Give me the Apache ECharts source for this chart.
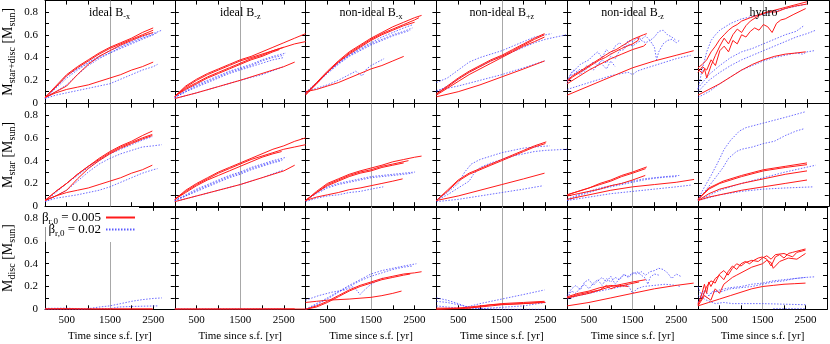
<!DOCTYPE html>
<html>
<head>
<meta charset="UTF-8">
<title>Stellar and disc mass vs time</title>
<script src="https://cdn.jsdelivr.net/npm/echarts@6.0.0/dist/echarts.min.js"></script>
<style>
  html, body { margin: 0; padding: 0; background: #fff; }
  #chart { width: 830px; height: 344px; }
</style>
</head>
<body>
<div id="chart"></div>
<script>
// column titles (main text, subscript) and row labels
var colTitles = [['ideal B', '-x'], ['ideal B', '-z'], ['non-ideal B', '-x'],
                 ['non-ideal B', '+z'], ['non-ideal B', '-z'], ['hydro', '']];
var rowLabels = ['star+disc', 'star', 'disc'];
var xTickLabels = [500, 1500, 2500];
var yTickLabels = [0, 0.2, 0.4, 0.6, 0.8];
var markTime = 1500;
var betaValues = ['0.005', '0.02'];

// ---- M star+disc ----
var sdIdealBxRed = [
  [[0,0.05],[250,0.15],[500,0.25],[750,0.32],[1000,0.38],[1250,0.44],[1500,0.49],[1750,0.53],[2000,0.57],[2250,0.62],[2500,0.66]],
  [[0,0.05],[250,0.14],[500,0.24],[750,0.31],[1000,0.37],[1250,0.43],[1500,0.48],[1750,0.52],[2000,0.56],[2250,0.6],[2500,0.64]],
  [[0,0.05],[250,0.1],[500,0.15],[750,0.25],[1000,0.34],[1250,0.41],[1500,0.46],[1750,0.51],[2000,0.55],[2250,0.59],[2500,0.62]],
  [[0,0.05],[250,0.09],[500,0.12],[750,0.14],[1000,0.16],[1250,0.19],[1500,0.22],[1750,0.25],[2000,0.29],[2250,0.32],[2500,0.36]]
];
var sdIdealBxBlue = [
  [[0,0.04],[250,0.14],[500,0.24],[750,0.3],[1000,0.36],[1250,0.41],[1500,0.46],[1750,0.5],[2000,0.54],[2250,0.58],[2500,0.61],[2700,0.64]],
  [[0,0.04],[250,0.1],[500,0.16],[750,0.25],[1000,0.33],[1250,0.39],[1500,0.44],[1750,0.48],[2000,0.52],[2250,0.56],[2500,0.6],[2600,0.62]],
  [[0,0.04],[250,0.13],[500,0.22],[750,0.29],[1000,0.35],[1250,0.4],[1500,0.44],[1750,0.49],[2000,0.53],[2250,0.57],[2500,0.6]],
  [[0,0.04],[250,0.07],[500,0.09],[750,0.11],[1000,0.13],[1250,0.15],[1500,0.17],[1750,0.21],[2000,0.25],[2250,0.29],[2500,0.32],[2600,0.34]]
];
var sdIdealBzRed = [
  [[0,0.06],[250,0.15],[500,0.21],[750,0.26],[1000,0.3],[1250,0.34],[1500,0.38],[1750,0.41],[2000,0.45],[2250,0.49],[2500,0.53],[2750,0.57],[3000,0.61]],
  [[0,0.06],[250,0.14],[500,0.2],[750,0.25],[1000,0.29],[1250,0.33],[1500,0.37],[1750,0.4],[2000,0.43],[2250,0.46],[2500,0.49],[2750,0.52],[3000,0.54]],
  [[0,0.06],[250,0.13],[500,0.18],[750,0.23],[1000,0.27],[1250,0.31],[1500,0.35],[1750,0.39],[2000,0.42],[2250,0.46],[2500,0.49]],
  [[0,0.06],[250,0.12],[500,0.17],[750,0.22],[1000,0.26],[1250,0.3],[1500,0.34],[1750,0.38],[2000,0.41],[2250,0.45],[2400,0.47]],
  [[0,0.04],[500,0.09],[1000,0.145],[1500,0.2],[2000,0.26],[2500,0.32],[2750,0.36]]
];
var sdIdealBzBlue = [
  [[0,0.05],[250,0.11],[500,0.16],[750,0.2],[1000,0.24],[1250,0.28],[1500,0.31],[1750,0.34],[2000,0.38],[2250,0.41],[2550,0.44]],
  [[0,0.05],[250,0.1],[500,0.15],[750,0.19],[1000,0.23],[1250,0.27],[1500,0.3],[1750,0.33],[2000,0.37],[2250,0.4],[2500,0.42]],
  [[0,0.05],[250,0.1],[500,0.14],[750,0.18],[1000,0.22],[1250,0.26],[1500,0.29],[1750,0.32],[2000,0.35],[2250,0.38],[2500,0.4]],
  [[0,0.04],[500,0.09],[1000,0.145],[1500,0.2],[2000,0.25],[2500,0.32]]
];
var sdNonIdealBxRed = [
  [[0,0.08],[250,0.18],[500,0.28],[750,0.37],[1000,0.45],[1250,0.51],[1500,0.57],[1750,0.62],[2000,0.67],[2250,0.71],[2500,0.75],[2660,0.77]],
  [[0,0.08],[250,0.17],[500,0.27],[750,0.36],[1000,0.44],[1250,0.5],[1500,0.56],[1750,0.61],[2000,0.65],[2250,0.69],[2500,0.73],[2600,0.75]],
  [[0,0.07],[250,0.17],[500,0.27],[750,0.36],[1000,0.43],[1250,0.49],[1500,0.55],[1750,0.6],[2000,0.64],[2250,0.68],[2500,0.71]],
  [[0,0.1],[250,0.12],[500,0.15],[750,0.18],[1000,0.22],[1250,0.26],[1500,0.3],[1750,0.33],[2000,0.37],[2250,0.41]]
];
var sdNonIdealBxBlue = [
  [[0,0.09],[250,0.18],[500,0.27],[750,0.35],[1000,0.42],[1250,0.48],[1500,0.53],[1750,0.58],[2000,0.62],[2250,0.66],[2470,0.69]],
  [[0,0.09],[250,0.18],[500,0.27],[750,0.35],[1000,0.42],[1250,0.47],[1500,0.52],[1750,0.56],[2000,0.6],[2250,0.63],[2450,0.66]],
  [[0,0.09],[250,0.17],[500,0.26],[750,0.34],[1000,0.41],[1250,0.46],[1500,0.51],[1750,0.55],[2000,0.59],[2250,0.62],[2400,0.64]],
  [[0,0.1],[250,0.13],[500,0.16],[750,0.2],[1000,0.25],[1150,0.28],[1250,0.25],[1300,0.24],[1400,0.3],[1500,0.33],[1750,0.38],[1800,0.39]]
];
var sdNonIdealBpzRed = [
  [[0,0.08],[250,0.15],[500,0.22],[750,0.28],[1000,0.33],[1250,0.38],[1500,0.42],[1750,0.47],[2000,0.52],[2250,0.57],[2480,0.61]],
  [[0,0.08],[250,0.14],[500,0.21],[750,0.27],[1000,0.32],[1250,0.37],[1500,0.41],[1750,0.46],[2000,0.51],[2250,0.56],[2480,0.6]],
  [[0,0.07],[250,0.13],[500,0.19],[750,0.25],[1000,0.3],[1250,0.35],[1500,0.4],[1750,0.45],[2000,0.5],[2250,0.54],[2480,0.58]],
  [[0,0.055],[500,0.1],[1000,0.16],[1500,0.23],[2000,0.3],[2480,0.37]]
];
var sdNonIdealBpzBlue = [
  [[0,0.18],[250,0.22],[500,0.29],[750,0.36],[1000,0.4],[1250,0.43],[1500,0.46],[1750,0.5],[2000,0.54],[2250,0.58],[2640,0.61]],
  [[0,0.1],[250,0.15],[500,0.21],[750,0.27],[1000,0.32],[1250,0.37],[1500,0.41],[1750,0.45],[2000,0.49],[2250,0.53],[2500,0.56],[2980,0.6]],
  [[0,0.11],[500,0.15],[1000,0.2],[1500,0.25],[2000,0.31],[2480,0.37]]
];
var sdNonIdealBmzRed = [
  [[0,0.2],[125,0.24],[250,0.27],[375,0.3],[500,0.33],[625,0.36],[750,0.39],[875,0.42],[1000,0.45],[1125,0.47],[1250,0.5],[1375,0.53],[1500,0.56],[1625,0.58],[1750,0.6],[1825,0.61]],
  [[0,0.19],[125,0.23],[250,0.26],[375,0.29],[500,0.32],[625,0.35],[750,0.38],[875,0.4],[1000,0.43],[1250,0.48],[1500,0.52],[1625,0.55],[1650,0.58]],
  [[0,0.17],[250,0.23],[500,0.29],[750,0.34],[1000,0.39],[1250,0.43],[1500,0.47],[1750,0.5],[1810,0.52]],
  [[0,0.07],[500,0.15],[1000,0.23],[1500,0.31],[2000,0.37],[2500,0.42],[2900,0.46]]
];
var sdNonIdealBmzBlue = [
  [[0,0.19],[100,0.27],[200,0.3],[300,0.34],[400,0.36],[500,0.38],[600,0.42],[700,0.45],[800,0.4],[900,0.47],[1000,0.43],[1100,0.5],[1200,0.53],[1300,0.49],[1400,0.55],[1500,0.54],[1600,0.57],[1700,0.56],[1800,0.59],[1900,0.55],[2000,0.58],[2100,0.63],[2200,0.64],[2300,0.6],[2400,0.58],[2500,0.55]],
  [[0,0.17],[100,0.24],[200,0.27],[300,0.3],[400,0.28],[500,0.33],[600,0.36],[700,0.33],[800,0.38],[900,0.35],[1000,0.41],[1100,0.39],[1200,0.46],[1300,0.47],[1400,0.52],[1500,0.5],[1600,0.53],[1700,0.55],[1800,0.53],[1900,0.55],[2000,0.49],[2050,0.38],[2100,0.45],[2200,0.52],[2300,0.55],[2400,0.56],[2500,0.53],[2570,0.55]],
  [[0,0.12],[250,0.15],[500,0.18],[750,0.21],[1000,0.24],[1250,0.26],[1400,0.27],[1500,0.25],[1600,0.28],[1750,0.3],[2000,0.33],[2250,0.36],[2500,0.39],[2830,0.42]],
  [[0,0.2],[150,0.29],[300,0.25],[450,0.33],[600,0.29],[750,0.36],[900,0.3],[1000,0.37],[1100,0.32]]
];
var sdHydroRed = [
  [[0,0.31],[100,0.34],[200,0.38],[300,0.45],[400,0.5],[500,0.56],[600,0.6],[700,0.64],[800,0.67],[900,0.69],[1000,0.72],[1200,0.75],[1500,0.79],[1700,0.81],[2000,0.84],[2200,0.86],[2500,0.89]],
  [[0,0.3],[100,0.26],[150,0.3],[200,0.22],[300,0.33],[400,0.42],[500,0.5],[600,0.57],[700,0.52],[800,0.6],[900,0.65],[1000,0.62],[1100,0.68],[1200,0.72],[1400,0.77],[1600,0.8],[1800,0.8],[2000,0.83],[2200,0.85],[2500,0.87]],
  [[0,0.27],[100,0.32],[200,0.29],[300,0.38],[400,0.33],[500,0.46],[600,0.5],[700,0.45],[800,0.55],[900,0.52],[1000,0.6],[1100,0.58],[1200,0.63],[1300,0.66],[1400,0.64],[1500,0.69],[1600,0.67],[1700,0.62],[1800,0.7],[1900,0.73],[2000,0.74],[2200,0.78],[2470,0.83]],
  [[0,0.07],[250,0.12],[500,0.17],[750,0.23],[1000,0.29],[1250,0.34],[1500,0.38],[1750,0.41],[2000,0.43],[2250,0.44],[2470,0.45]]
];
var sdHydroBlue = [
  [[0,0.12],[100,0.3],[200,0.45],[300,0.55],[400,0.6],[500,0.64],[750,0.7],[1000,0.74],[1500,0.78],[2000,0.83],[2500,0.87]],
  [[0,0.13],[250,0.25],[500,0.33],[750,0.4],[1000,0.45],[1250,0.48],[1500,0.52],[1750,0.56],[2000,0.6],[2250,0.63],[2430,0.68]],
  [[0,0.1],[250,0.2],[500,0.27],[750,0.33],[1000,0.38],[1250,0.42],[1500,0.46],[1750,0.5],[2000,0.54],[2250,0.58],[2500,0.61],[2700,0.64]],
  [[0,0.05],[250,0.1],[500,0.17],[750,0.23],[1000,0.29],[1250,0.33],[1500,0.37],[1750,0.4],[2000,0.42],[2250,0.44],[2400,0.43],[2500,0.45],[2660,0.46]]
];

// ---- M star ----
var stIdealBxRed = [
  [[0,0.05],[250,0.13],[500,0.2],[750,0.28],[1000,0.35],[1250,0.42],[1500,0.48],[1750,0.53],[2000,0.57],[2250,0.62],[2480,0.66]],
  [[0,0.05],[250,0.13],[500,0.2],[750,0.28],[1000,0.35],[1250,0.41],[1500,0.47],[1750,0.52],[2000,0.56],[2250,0.6],[2480,0.63]],
  [[0,0.05],[250,0.09],[500,0.14],[750,0.24],[1000,0.33],[1250,0.4],[1500,0.46],[1750,0.51],[2000,0.55],[2250,0.59],[2480,0.62]],
  [[0,0.05],[250,0.09],[500,0.12],[750,0.14],[1000,0.16],[1250,0.19],[1500,0.22],[1750,0.25],[2000,0.29],[2250,0.32],[2480,0.36]]
];
var stIdealBxBlue = [
  [[0,0.04],[250,0.12],[500,0.2],[750,0.27],[1000,0.34],[1250,0.4],[1500,0.46],[1750,0.5],[2000,0.54],[2250,0.58],[2480,0.61]],
  [[0,0.04],[250,0.09],[500,0.14],[750,0.22],[1000,0.3],[1250,0.37],[1500,0.42],[1750,0.46],[2000,0.49],[2250,0.52],[2500,0.53],[2700,0.54]],
  [[0,0.04],[250,0.07],[500,0.085],[750,0.1],[1000,0.12],[1250,0.14],[1500,0.17],[1750,0.21],[2000,0.25],[2250,0.29],[2500,0.32],[2600,0.33]]
];
var stIdealBzRed = [
  [[0,0.06],[250,0.14],[500,0.2],[750,0.25],[1000,0.3],[1250,0.34],[1500,0.38],[1750,0.42],[2000,0.46],[2250,0.5],[2500,0.53],[2750,0.57],[3000,0.6]],
  [[0,0.06],[250,0.13],[500,0.19],[750,0.24],[1000,0.29],[1250,0.33],[1500,0.37],[1750,0.41],[2000,0.44],[2250,0.47],[2500,0.5],[2750,0.52],[3000,0.54]],
  [[0,0.06],[250,0.12],[500,0.18],[750,0.23],[1000,0.27],[1250,0.31],[1500,0.35],[1750,0.39],[2000,0.43],[2250,0.46],[2450,0.48]],
  [[0,0.04],[500,0.09],[1000,0.14],[1500,0.19],[2000,0.25],[2500,0.31],[2750,0.36]]
];
var stIdealBzBlue = [
  [[0,0.05],[250,0.1],[500,0.15],[750,0.19],[1000,0.23],[1250,0.27],[1500,0.3],[1750,0.34],[2000,0.37],[2250,0.4],[2560,0.43]],
  [[0,0.05],[250,0.09],[500,0.14],[750,0.18],[1000,0.22],[1250,0.26],[1500,0.29],[1750,0.33],[2000,0.36],[2250,0.39],[2500,0.41]],
  [[0,0.05],[250,0.09],[500,0.13],[750,0.17],[1000,0.21],[1250,0.25],[1500,0.28],[1750,0.32],[2000,0.35],[2250,0.38],[2450,0.4]],
  [[0,0.04],[500,0.09],[1000,0.14],[1500,0.19],[2000,0.25],[2500,0.32]]
];
var stNonIdealBxRed = [
  [[0,0.05],[250,0.13],[500,0.2],[750,0.24],[1000,0.28],[1250,0.31],[1500,0.335],[1750,0.36],[2000,0.39],[2250,0.41],[2500,0.43],[2660,0.44]],
  [[0,0.05],[250,0.12],[500,0.19],[750,0.23],[1000,0.27],[1250,0.3],[1500,0.32],[1750,0.35],[2000,0.37],[2360,0.4]],
  [[0,0.05],[250,0.12],[500,0.18],[750,0.22],[1000,0.26],[1250,0.29],[1500,0.31],[1750,0.34],[2000,0.36],[2250,0.38]],
  [[0,0.05],[250,0.08],[500,0.1],[750,0.12],[1000,0.145],[1250,0.16],[1500,0.18],[1750,0.2],[2000,0.22],[2225,0.24]]
];
var stNonIdealBxBlue = [
  [[0,0.05],[250,0.12],[500,0.17],[750,0.2],[1000,0.22],[1250,0.24],[1500,0.26],[1750,0.27],[2000,0.28],[2250,0.29],[2510,0.3]],
  [[0,0.05],[250,0.11],[500,0.16],[750,0.19],[1000,0.21],[1250,0.23],[1500,0.25],[1750,0.26],[2000,0.27],[2250,0.28],[2450,0.29]],
  [[0,0.04],[250,0.07],[500,0.09],[750,0.1],[1000,0.12],[1250,0.13],[1500,0.15],[1780,0.17]]
];
var stNonIdealBpzRed = [
  [[0,0.05],[250,0.14],[500,0.23],[750,0.29],[1000,0.33],[1250,0.37],[1500,0.41],[1750,0.45],[2000,0.49],[2250,0.53],[2520,0.565]],
  [[0,0.05],[250,0.13],[500,0.22],[750,0.28],[1000,0.32],[1250,0.36],[1500,0.4],[1750,0.44],[2000,0.48],[2250,0.52],[2500,0.55]],
  [[0,0.05],[500,0.09],[1000,0.14],[1500,0.19],[2000,0.24],[2480,0.29]]
];
var stNonIdealBpzBlue = [
  [[0,0.05],[250,0.12],[500,0.2],[650,0.3],[800,0.37],[1000,0.41],[1250,0.44],[1500,0.47],[1750,0.49],[2000,0.51],[2250,0.52],[2600,0.53]],
  [[0,0.05],[250,0.1],[500,0.16],[750,0.22],[850,0.28],[1000,0.34],[1250,0.38],[1500,0.41],[1750,0.44],[2000,0.46],[2250,0.48],[2500,0.49],[3000,0.5]],
  [[0,0.04],[500,0.06],[1000,0.09],[1500,0.12],[2000,0.15],[2450,0.18]]
];
var stNonIdealBmzRed = [
  [[0,0.1],[250,0.13],[500,0.16],[750,0.2],[1000,0.23],[1250,0.27],[1500,0.3],[1825,0.345]],
  [[0,0.1],[250,0.13],[500,0.16],[750,0.19],[1000,0.22],[1250,0.26],[1500,0.29],[1800,0.33]],
  [[0,0.09],[250,0.11],[500,0.13],[750,0.15],[1000,0.18],[1250,0.2],[1500,0.23],[1790,0.27]],
  [[0,0.06],[500,0.1],[1000,0.14],[1500,0.17],[2000,0.19],[2500,0.21],[2910,0.235]]
];
var stNonIdealBmzBlue = [
  [[0,0.06],[250,0.1],[500,0.13],[750,0.16],[1000,0.18],[1250,0.2],[1500,0.22],[1750,0.24],[2000,0.25],[2250,0.26],[2570,0.27]],
  [[0,0.05],[250,0.09],[500,0.12],[750,0.15],[1000,0.17],[1250,0.19],[1500,0.21],[1750,0.23],[2000,0.245],[2250,0.255],[2500,0.26]],
  [[0,0.05],[500,0.08],[1000,0.11],[1500,0.13],[2000,0.15],[2500,0.17],[2830,0.185]]
];
var stHydroRed = [
  [[0,0.06],[250,0.16],[576,0.22],[1000,0.27],[1500,0.32],[2000,0.35],[2500,0.38]],
  [[0,0.06],[250,0.15],[500,0.2],[1000,0.26],[1500,0.31],[2000,0.34],[2500,0.365]],
  [[0,0.05],[250,0.11],[500,0.15],[1000,0.2],[1500,0.24],[2000,0.28],[2500,0.31]],
  [[0,0.05],[250,0.08],[500,0.1],[1000,0.14],[1500,0.17],[2000,0.2],[2500,0.23]]
];
var stHydroBlue = [
  [[0,0.06],[150,0.17],[300,0.27],[450,0.38],[600,0.5],[750,0.58],[950,0.66],[1100,0.69],[1500,0.73],[2000,0.78],[2470,0.83]],
  [[0,0.05],[200,0.15],[400,0.25],[576,0.34],[700,0.42],[880,0.48],[1000,0.5],[1250,0.52],[1500,0.55],[1750,0.57],[2000,0.62],[2250,0.66],[2430,0.68]],
  [[0,0.05],[500,0.14],[1000,0.2],[1500,0.25],[2000,0.3],[2700,0.36]],
  [[0,0.05],[500,0.1],[1000,0.13],[1500,0.15],[2000,0.16],[2650,0.17]]
];

// ---- M disc ----
var dkIdealBxRed = [
  [[0,0.004],[500,0.006],[1000,0.003],[2480,0.003]],
  [[0,0.002],[2500,0.002]]
];
var dkIdealBxBlue = [
  [[0,0],[900,0],[1250,0.02],[1500,0.03],[1750,0.05],[2000,0.07],[2250,0.085],[2500,0.095],[2700,0.1]],
  [[0,0],[1500,0.005],[1700,0.02],[2000,0.025],[2600,0.03]],
  [[0,0.008],[500,0.01],[900,0.002]]
];
var dkIdealBzRed = [
  [[0,0.002],[3000,0.002]],
  [[0,0.002],[2750,0.004]]
];
var dkIdealBzBlue = [
  [[0,0.003],[2560,0.003]]
];
var dkNonIdealBxRed = [
  [[0,0],[250,0.03],[500,0.07],[750,0.12],[1000,0.17],[1250,0.21],[1500,0.24],[1750,0.27],[2000,0.29],[2250,0.31],[2500,0.32],[2660,0.33]],
  [[0,0],[250,0.02],[500,0.06],[750,0.11],[1000,0.16],[1250,0.2],[1500,0.23],[1750,0.26],[2000,0.28],[2250,0.3],[2400,0.31]],
  [[0,0.06],[250,0.07],[500,0.08],[1000,0.09],[1500,0.105],[1750,0.12],[2000,0.14],[2200,0.16]]
];
var dkNonIdealBxBlue = [
  [[0,0],[250,0.05],[500,0.1],[750,0.155],[1000,0.21],[1250,0.26],[1500,0.31],[1750,0.34],[2000,0.36],[2250,0.38],[2540,0.4]],
  [[0,0],[250,0.04],[500,0.09],[750,0.15],[1000,0.2],[1250,0.25],[1500,0.29],[1750,0.32],[2000,0.35],[2250,0.37],[2450,0.38]],
  [[0,0.08],[300,0.12],[600,0.15],[900,0.17],[1100,0.2],[1250,0.13],[1350,0.17],[1500,0.22],[1750,0.27],[1800,0.28]]
];
var dkNonIdealBpzRed = [
  [[0,0],[500,0.01],[1000,0.03],[1500,0.05],[2000,0.06],[2480,0.07]],
  [[0,0],[500,0.005],[1000,0.02],[1500,0.04],[2000,0.05],[2480,0.065]],
  [[0,0.01],[750,0.01],[1250,0.04],[2000,0.05],[2500,0.06]]
];
var dkNonIdealBpzBlue = [
  [[0,0.1],[250,0.08],[500,0.05],[700,0.02],[1000,0.05],[1500,0.09],[2000,0.13],[2480,0.17]],
  [[0,0.07],[250,0.06],[500,0.04],[750,0.02],[1000,0.005],[1500,0],[2500,0]],
  [[0,0.03],[500,0.01],[1000,0.005],[2000,0.03],[2500,0.06]]
];
var dkNonIdealBmzRed = [
  [[0,0.1],[250,0.13],[500,0.15],[750,0.17],[1000,0.2],[1250,0.22],[1500,0.24],[1800,0.26]],
  [[0,0.11],[250,0.14],[500,0.16],[750,0.19],[1000,0.21],[1200,0.2],[1400,0.22],[1650,0.24]],
  [[0,0.1],[250,0.12],[500,0.14],[750,0.17],[900,0.21],[1000,0.18],[1200,0.21],[1400,0.2]],
  [[0,0.03],[500,0.06],[1000,0.1],[1500,0.14],[2000,0.18],[2500,0.21],[2900,0.23]]
];
var dkNonIdealBmzBlue = [
  [[0,0.1],[100,0.16],[200,0.14],[300,0.19],[400,0.22],[500,0.18],[600,0.23],[700,0.26],[800,0.21],[900,0.27],[1000,0.24],[1100,0.28],[1200,0.26],[1300,0.3],[1400,0.29],[1500,0.32],[1600,0.31],[1700,0.33],[1800,0.3],[1900,0.33],[2000,0.34],[2100,0.36],[2200,0.35],[2300,0.32],[2400,0.27],[2500,0.31],[2600,0.29]],
  [[0,0.12],[100,0.18],[200,0.21],[300,0.17],[400,0.24],[500,0.26],[600,0.21],[700,0.25],[800,0.28],[900,0.24],[1000,0.29],[1100,0.22],[1200,0.27],[1300,0.31],[1400,0.28],[1500,0.31],[1600,0.33],[1700,0.3],[1800,0.27],[1850,0.22],[1900,0.28],[2000,0.31],[2100,0.3]],
  [[0,0.09],[250,0.12],[500,0.14],[750,0.16],[1000,0.18],[1250,0.2],[1400,0.21],[1500,0.14],[1600,0.18],[1750,0.2],[2000,0.21],[2250,0.22],[2500,0.21],[2600,0.2]]
];
var dkHydroRed = [
  [[0,0.04],[100,0.15],[150,0.22],[200,0.14],[250,0.24],[300,0.2],[400,0.27],[500,0.3],[600,0.26],[700,0.33],[800,0.38],[900,0.35],[1000,0.4],[1100,0.42],[1200,0.4],[1300,0.43],[1400,0.45],[1500,0.46],[1600,0.44],[1700,0.38],[1800,0.46],[1900,0.48],[2000,0.45],[2100,0.49],[2200,0.5],[2300,0.51],[2400,0.52],[2500,0.53]],
  [[0,0.05],[100,0.1],[200,0.2],[300,0.25],[400,0.23],[500,0.31],[600,0.34],[700,0.3],[800,0.36],[900,0.4],[1000,0.38],[1100,0.41],[1250,0.43],[1400,0.42],[1500,0.45],[1600,0.47],[1700,0.44],[1800,0.48],[2000,0.49],[2200,0.46],[2300,0.5],[2500,0.52]],
  [[0,0.03],[150,0.12],[300,0.08],[400,0.18],[500,0.14],[600,0.22],[700,0.25],[800,0.28],[900,0.3],[1000,0.32],[1250,0.37],[1500,0.4],[1600,0.43],[1700,0.41],[1750,0.36],[1900,0.42],[2100,0.45],[2300,0.44],[2500,0.49]],
  [[0,0.03],[250,0.06],[500,0.09],[750,0.12],[1000,0.15],[1250,0.18],[1500,0.2],[1750,0.21],[2000,0.22],[2250,0.225],[2500,0.23]]
];
var dkHydroBlue = [
  [[0,0.2],[100,0.1],[150,0.17],[250,0.12],[350,0.16],[500,0.15],[750,0.18],[1000,0.19],[1250,0.2],[1500,0.22],[1750,0.24],[2000,0.25],[2250,0.27],[2500,0.28],[2700,0.285]],
  [[0,0.06],[100,0.15],[200,0.1],[300,0.14],[500,0.17],[750,0.19],[1000,0.2],[1250,0.22],[1500,0.23],[1750,0.25],[2000,0.26],[2250,0.27],[2500,0.28]],
  [[0,0.12],[200,0.08],[400,0.05],[600,0.06],[800,0.05],[1000,0.05],[1500,0.05],[2000,0.045],[2500,0.04]],
  [[1750,0.005],[2500,0.005]]
];

var panels = [
  [[sdIdealBxRed, sdIdealBxBlue], [sdIdealBzRed, sdIdealBzBlue], [sdNonIdealBxRed, sdNonIdealBxBlue],
   [sdNonIdealBpzRed, sdNonIdealBpzBlue], [sdNonIdealBmzRed, sdNonIdealBmzBlue], [sdHydroRed, sdHydroBlue]],
  [[stIdealBxRed, stIdealBxBlue], [stIdealBzRed, stIdealBzBlue], [stNonIdealBxRed, stNonIdealBxBlue],
   [stNonIdealBpzRed, stNonIdealBpzBlue], [stNonIdealBmzRed, stNonIdealBmzBlue], [stHydroRed, stHydroBlue]],
  [[dkIdealBxRed, dkIdealBxBlue], [dkIdealBzRed, dkIdealBzBlue], [dkNonIdealBxRed, dkNonIdealBxBlue],
   [dkNonIdealBpzRed, dkNonIdealBpzBlue], [dkNonIdealBmzRed, dkNonIdealBmzBlue], [dkHydroRed, dkHydroBlue]]
];

var FONT = '"Liberation Serif", "DejaVu Serif", serif';
var RED = '#ff1a1a';
var BLUE = 'rgba(50, 50, 255, 0.8)';
var plotLeft = 44, panelW = 130.8, rowTop = 0.6, rowStep = 103.1, panelH = 102.5;

var grids = [], xAxes = [], yAxes = [], series = [];

function subRich(base, sub) {
  return {
    m: { fontFamily: FONT, fontSize: base, color: '#000', lineHeight: base + 4 },
    s: { fontFamily: FONT, fontSize: sub, color: '#000', verticalAlign: 'bottom', lineHeight: sub + 2 }
  };
}

function xAxisFor(g, r, top) {
  var labeled = !top && r === 2;
  return {
    type: 'value', gridIndex: g, min: 0, max: 3000, interval: 500,
    position: top ? 'top' : 'bottom',
    axisLine: { onZero: false, lineStyle: { color: '#000', width: 1 } },
    axisTick: { inside: true, length: 4, lineStyle: { color: '#000' } },
    splitLine: { show: false },
    axisLabel: {
      show: labeled, margin: 5, fontFamily: FONT, fontSize: 11, color: '#000',
      formatter: function (v) { return xTickLabels.indexOf(v) >= 0 ? String(v) : ''; }
    },
    name: labeled ? 'Time since s.f. [yr]' : '',
    nameLocation: 'middle', nameGap: 21,
    nameTextStyle: { fontFamily: FONT, fontSize: 11, color: '#000' }
  };
}

function yAxisFor(g, r, c, right) {
  var labeled = !right && c === 0;
  return {
    type: 'value', gridIndex: g, min: 0, max: 0.9, interval: 0.1,
    position: right ? 'right' : 'left',
    axisLine: { onZero: false, lineStyle: { color: '#000', width: 1 } },
    axisTick: { inside: true, length: 4, lineStyle: { color: '#000' } },
    splitLine: { show: false },
    axisLabel: {
      show: labeled, margin: 7, fontFamily: FONT, fontSize: 11, color: '#000',
      formatter: function (v) {
        var k = Math.round(v * 10) / 10;
        if (yTickLabels.indexOf(k) < 0) return '';
        return k === 0 ? '0' : k.toFixed(1);
      }
    },
    name: labeled ? '{m|M}{s|' + rowLabels[r] + '}{m| [M}{s|sun}{m|]}' : '',
    nameLocation: 'middle', nameGap: 28, nameRotate: 90,
    nameTextStyle: { rich: subRich(14, 10) }
  };
}

function lineSeries(name, data, g, color, dashed) {
  return {
    type: 'line', name: name, xAxisIndex: 2 * g, yAxisIndex: 2 * g,
    data: data, symbol: 'none', silent: true, animation: false,
    lineStyle: { color: color, width: dashed ? 0.9 : 1, type: dashed ? [1.5, 1.5] : 'solid' },
    itemStyle: { color: color }
  };
}

for (var r = 0; r < 3; r++) {
  for (var c = 0; c < 6; c++) {
    var g = r * 6 + c;
    grids.push({ left: plotLeft + c * panelW, top: rowTop + r * rowStep, width: panelW, height: panelH });
    xAxes.push(xAxisFor(g, r, false), xAxisFor(g, r, true));
    yAxes.push(yAxisFor(g, r, c, false), yAxisFor(g, r, c, true));
    var red = panels[r][c][0], blue = panels[r][c][1];
    blue.forEach(function (line) { series.push(lineSeries('b002', line, g, BLUE, true)); });
    red.forEach(function (line, i) {
      var s = lineSeries('b005', line, g, RED, false);
      if (i === 0) {
        s.markLine = {
          silent: true, symbol: 'none', animation: false, label: { show: false },
          lineStyle: { color: '#a8a8a8', width: 1, type: 'solid' },
          data: [{ xAxis: markTime }], z: 1
        };
      }
      series.push(s);
    });
  }
}

var titles = colTitles.map(function (t, c) {
  return {
    text: t[1] ? '{m|' + t[0] + '}{s|' + t[1] + '}' : '{m|' + t[0] + '}',
    left: plotLeft + c * panelW + panelW / 2, top: 5, padding: 0,
    textAlign: 'center',
    textStyle: { fontFamily: FONT, fontSize: 12, fontWeight: 'normal', color: '#000', rich: subRich(12, 8) }
  };
});

function legendFor(name, idx) {
  return {
    data: [name], orient: 'vertical', align: 'right',
    right: 830 - 139, top: idx === 0 ? 207 : 222,
    padding: idx === 0 ? [4, 3, 1, 3] : [1, 3, 4, 3],
    itemWidth: 29, itemHeight: 10, selectedMode: false,
    backgroundColor: '#fff',
    itemStyle: { opacity: 0 },
    formatter: function () { return '{m|β}{s|r,0}{m| = ' + betaValues[idx] + '}'; },
    textStyle: { fontFamily: FONT, fontSize: 13, color: '#000', rich: subRich(13, 9) }
  };
}

var chart = echarts.init(document.getElementById('chart'), null, { renderer: 'canvas' });
chart.setOption({
  backgroundColor: '#fff',
  animation: false,
  title: titles,
  legend: [legendFor('b005', 0), legendFor('b002', 1)],
  grid: grids,
  xAxis: xAxes,
  yAxis: yAxes,
  series: series
});
</script>
</body>
</html>
